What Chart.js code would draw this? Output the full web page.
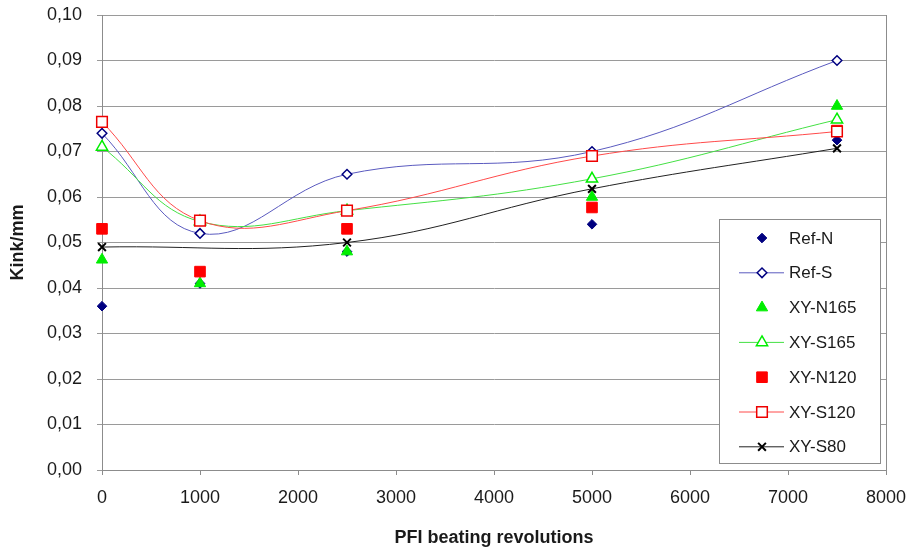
<!DOCTYPE html>
<html>
<head>
<meta charset="utf-8">
<script src="https://cdn.jsdelivr.net/npm/chart.js@4.4.0/dist/chart.umd.min.js"></script>
<style>
    html, body { margin: 0; padding: 0; background: #fff; }
    #wrap { width: 916px; height: 549px; }
</style>
</head>
<body>
<div id="wrap"><canvas id="kinkChart" width="916" height="549"></canvas></div>
<script>
// PFI beating revolutions (x values)
const revolutions = [0, 1000, 2500, 5000, 7500];

// Kink/mm per sample (null = no measurement)
const refN   = [0.036, 0.041, 0.048, 0.054, 0.0725];
const refS   = [0.074, 0.052, 0.065, 0.070, 0.090];
const xyN165 = [0.0462, 0.041, 0.048, 0.060, 0.080];
const xyS165 = [0.071, 0.0546, 0.057, 0.064, 0.077];
const xyN120 = [0.053, 0.0436, 0.053, 0.0577, 0.0746];
const xyS120 = [0.0765, 0.0548, 0.057, 0.069, 0.0744];
const xyS80  = [0.049, null, 0.050, 0.0618, 0.0707];

const FONT = 'Arial, "Liberation Sans", sans-serif';

// pairs x/y for the scatter datasets, skipping empty points
function toPoints(values) {
    return revolutions
        .map((x, i) => ({ x: x, y: values[i] }))
        .filter(p => p.y !== null);
}

function makeSeries(label, values, style) {
    return {
        label: label,
        data: toPoints(values),
        showLine: style.showLine,
        borderColor: style.lineColor || style.color,
        borderWidth: 1,
        tension: 0.4,
        clip: false,
        pointStyle: style.pointStyle,
        pointRadius: style.radius,
        pointBorderWidth: style.markerWidth || (style.filled ? 1 : 1.5),
        pointBorderColor: style.color,
        pointBackgroundColor: style.filled ? style.color : '#ffffff',
        order: style.order
    };
}

const datasets = [
    makeSeries('Ref-N', refN, { color: '#000080', pointStyle: 'rectRot', radius: 4.8, filled: true, showLine: false, order: 7 }),
    makeSeries('Ref-S', refS, { color: '#000080', lineColor: '#5a5abf', pointStyle: 'rectRot', radius: 4.8, filled: false, showLine: true, order: 6 }),
    makeSeries('XY-N165', xyN165, { color: '#00ee00', pointStyle: 'triangle', radius: 6.5, filled: true, showLine: false, order: 5 }),
    makeSeries('XY-S165', xyS165, { color: '#00ee00', lineColor: '#44e044', pointStyle: 'triangle', radius: 6.5, filled: false, showLine: true, order: 4 }),
    makeSeries('XY-N120', xyN120, { color: '#ff0000', pointStyle: 'rect', radius: 7.5, filled: true, showLine: false, order: 3 }),
    makeSeries('XY-S120', xyS120, { color: '#ee0000', lineColor: '#ff4a4a', pointStyle: 'rect', radius: 7.5, filled: false, showLine: true, order: 2 }),
    makeSeries('XY-S80', xyS80, { color: '#000000', lineColor: '#222222', pointStyle: 'crossRot', radius: 5.5, filled: true, markerWidth: 2, showLine: true, order: 1 })
];

// frame on the right side of the plot area
const plotFrame = {
    id: 'plotFrame',
    beforeDatasetsDraw(chart) {
        const { ctx, chartArea } = chart;
        ctx.save();
        ctx.strokeStyle = '#8c8c8c';
        ctx.lineWidth = 1;
        ctx.beginPath();
        ctx.moveTo(chartArea.right + 0.5, chartArea.top);
        ctx.lineTo(chartArea.right + 0.5, chartArea.bottom);
        ctx.stroke();
        ctx.restore();
    }
};

// legend box inside the plot, like the original
const boxLegend = {
    id: 'boxLegend',
    afterDraw(chart) {
        const ctx = chart.ctx;
        const left = 719, top = 219, width = 161, height = 244;
        const rowH = 34.8, firstRow = top + 19;
        ctx.save();
        ctx.fillStyle = '#ffffff';
        ctx.fillRect(left, top, width, height);
        ctx.strokeStyle = '#8c8c8c';
        ctx.lineWidth = 1;
        ctx.strokeRect(left + 0.5, top + 0.5, width, height);

        chart.data.datasets.forEach((ds, i) => {
            const y = firstRow + i * rowH;
            const cx = 762;
            if (ds.showLine) {
                ctx.strokeStyle = ds.borderColor;
                ctx.lineWidth = 1;
                ctx.beginPath();
                ctx.moveTo(739, y);
                ctx.lineTo(784, y);
                ctx.stroke();
            }
            ctx.fillStyle = ds.pointBackgroundColor;
            ctx.strokeStyle = ds.pointBorderColor;
            ctx.lineWidth = ds.pointBorderWidth;
            Chart.helpers.drawPoint(ctx, {
                pointStyle: ds.pointStyle,
                radius: ds.pointRadius,
                borderWidth: ds.pointBorderWidth,
                rotation: 0
            }, cx, y);

            ctx.fillStyle = '#1a1a1a';
            ctx.font = '17px ' + FONT;
            ctx.textAlign = 'left';
            ctx.textBaseline = 'middle';
            ctx.fillText(ds.label, 789, y + 1);
        });
        ctx.restore();
    }
};

new Chart(document.getElementById('kinkChart'), {
    type: 'scatter',
    data: { datasets: datasets },
    options: {
        responsive: false,
        animation: false,
        devicePixelRatio: 1,
        layout: { padding: { left: 0, right: 30, top: 15, bottom: 0 } },
        plugins: {
            legend: { display: false },
            tooltip: { enabled: false }
        },
        scales: {
            x: {
                type: 'linear',
                min: 0,
                max: 8000,
                afterFit(scale) {
                    scale.height = 79;
                    scale.paddingLeft = 0;
                    scale.paddingRight = 0;
                },
                ticks: {
                    stepSize: 1000,
                    padding: 12,
                    color: '#1a1a1a',
                    font: { family: FONT, size: 18 },
                    callback: v => String(v)
                },
                grid: {
                    display: true,
                    drawOnChartArea: false,
                    drawTicks: true,
                    tickLength: 5,
                    color: '#8c8c8c'
                },
                border: { display: true, color: '#8c8c8c', width: 1 },
                title: {
                    display: true,
                    text: 'PFI beating revolutions',
                    color: '#1a1a1a',
                    font: { family: FONT, size: 18, weight: 'bold' },
                    padding: { top: 3, bottom: 0 }
                }
            },
            y: {
                min: 0,
                max: 0.1,
                afterFit(scale) {
                    scale.width = 102;
                    scale.paddingTop = 0;
                    scale.paddingBottom = 0;
                },
                ticks: {
                    stepSize: 0.01,
                    padding: 15,
                    color: '#1a1a1a',
                    font: { family: FONT, size: 18 },
                    callback: v => v.toFixed(2).replace('.', ',')
                },
                grid: {
                    color: '#9a9a9a',
                    lineWidth: 1,
                    drawTicks: true,
                    tickLength: 5
                },
                border: { display: true, color: '#8c8c8c', width: 1 },
                title: {
                    display: true,
                    text: 'Kink/mm',
                    color: '#1a1a1a',
                    font: { family: FONT, size: 18, weight: 'bold' },
                    padding: { top: 7, bottom: 0 }
                }
            }
        }
    },
    plugins: [plotFrame, boxLegend]
});
</script>
</body>
</html>
